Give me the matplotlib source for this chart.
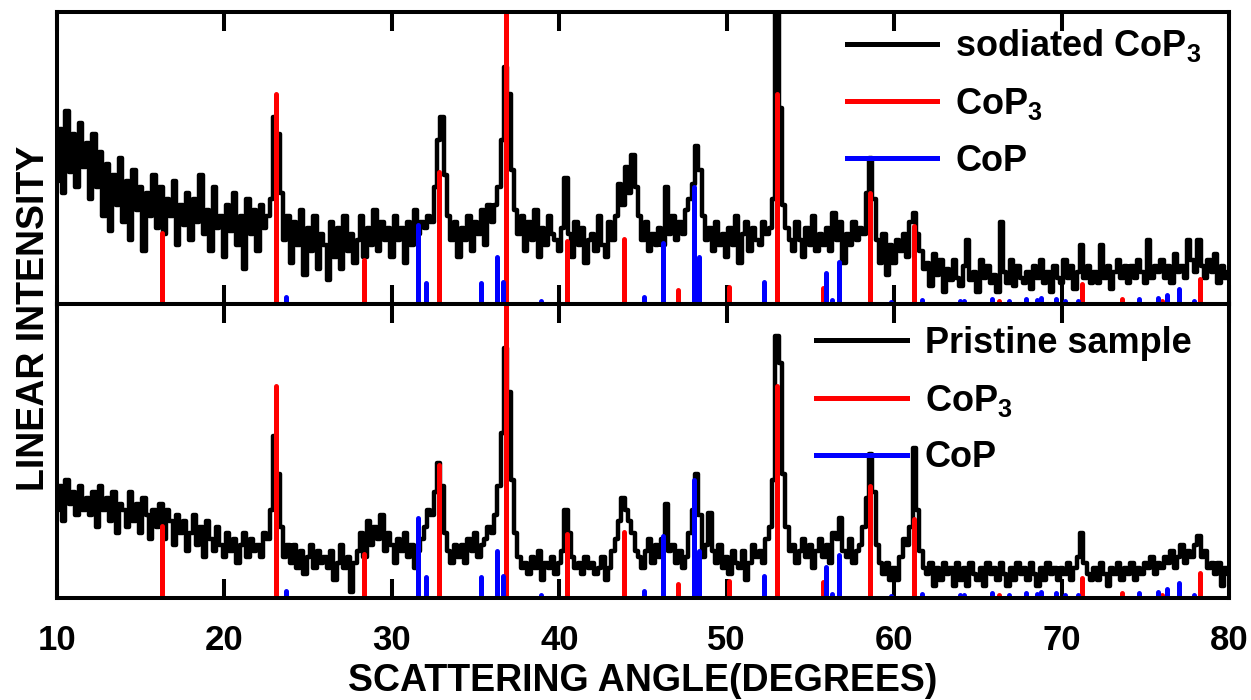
import numpy as np
import matplotlib.pyplot as plt
from matplotlib.lines import Line2D

plt.rcParams['font.family'] = ['Liberation Sans', 'DejaVu Sans']
plt.rcParams['font.weight'] = 'bold'
plt.rcParams['mathtext.fontset'] = 'custom'
plt.rcParams['mathtext.rm'] = 'Liberation Sans:bold'
plt.rcParams['mathtext.default'] = 'rm'

# ============================= Data ===============================
# scattering angle grid (degrees), one point every 0.2 deg
angle = np.round(np.arange(10, 80.001, 0.2), 1)

# intensities, % of panel height
sodiated = [
    42, 60, 38, 66, 45, 58, 40, 62, 47, 55,
    36, 58, 40, 52, 30, 48, 25, 44, 34, 50,
    28, 42, 22, 46, 32, 40, 18, 38, 30, 44,
    26, 40, 24, 36, 30, 42, 20, 34, 27, 38,
    22, 36, 28, 44, 24, 32, 18, 40, 26, 30,
    16, 34, 25, 38, 20, 30, 12, 36, 24, 32,
    18, 34, 26, 30, 36, 64, 58, 38, 22, 30,
    14, 28, 20, 32, 10, 26, 18, 30, 12, 24,
    20, 8, 28, 16, 26, 12, 30, 18, 24, 14,
    22, 30, 16, 26, 20, 32, 18, 28, 22, 26,
    16, 30, 22, 26, 14, 28, 20, 32, 24, 28,
    26, 30, 28, 40, 56, 64, 44, 30, 22, 28,
    16, 26, 22, 30, 18, 28, 24, 32, 20, 34,
    28, 34, 40, 56, 81, 72, 46, 32, 24, 30,
    18, 28, 22, 32, 16, 26, 20, 30, 24, 22,
    18, 26, 43, 24, 16, 28, 20, 26, 14, 22,
    24, 18, 30, 20, 16, 28, 22, 30, 41, 34,
    47, 38, 51, 40, 30, 22, 28, 18, 24, 20,
    26, 20, 40, 24, 30, 22, 28, 24, 32, 36,
    41, 54, 46, 30, 22, 26, 18, 28, 20, 24,
    16, 26, 20, 30, 14, 24, 28, 18, 26, 22,
    20, 28, 24, 26, 36, 105, 67, 34, 26, 22,
    18, 28, 22, 16, 26, 20, 30, 18, 24, 20,
    26, 18, 31, 22, 28, 14, 24, 20, 28, 22,
    26, 24, 38, 50, 36, 22, 14, 24, 10, 20,
    14, 22, 18, 24, 16, 28, 31, 24, 18, 12,
    14, 6, 17, 10, 15, 4, 12, 8, 15, 9,
    6, 13, 22, 8, 11, 4, 15, 9, 13, 7,
    10, 4, 28, 11, 7, 15, 6, 13, 9, 7,
    11, 5, 13, 9, 15, 7, 11, 4, 13, 9,
    7, 15, 9, 13, 5, 11, 20, 9, 13, 7,
    11, 7, 20, 9, 13, 5, 11, 15, 9, 13,
    7, 13, 9, 15, 11, 7, 22, 9, 13, 11,
    15, 9, 13, 7, 17, 11, 13, 9, 22, 15,
    11, 22, 13, 9, 15, 11, 17, 7, 13, 9,
    11,
]

pristine = [
    30, 38, 26, 40, 32, 36, 28, 38, 30, 34,
    28, 36, 24, 38, 30, 34, 26, 36, 22, 32,
    30, 24, 36, 26, 32, 22, 34, 28, 20, 30,
    24, 32, 20, 30, 26, 18, 28, 22, 26, 16,
    22, 28, 18, 24, 14, 26, 20, 16, 24, 18,
    14, 22, 16, 20, 12, 18, 22, 14, 20, 16,
    18, 14, 22, 20, 30, 55, 42, 24, 14, 18,
    12, 18, 10, 16, 8, 14, 18, 10, 16, 12,
    14, 10, 16, 6, 12, 18, 10, 14, 2, 12,
    16, 22, 14, 26, 18, 24, 20, 28, 16, 22,
    18, 12, 20, 16, 22, 14, 18, 10, 16, 20,
    24, 30, 28, 36, 46, 38, 22, 16, 12, 18,
    14, 18, 12, 20, 16, 22, 14, 18, 20, 24,
    22, 28, 38, 56, 85, 70, 40, 22, 14, 10,
    12, 8, 14, 10, 16, 6, 12, 10, 14, 8,
    12, 16, 30, 22, 14, 10, 12, 8, 14, 10,
    12, 8, 10, 14, 6, 10, 16, 20, 26, 34,
    30, 26, 22, 16, 14, 10, 16, 20, 12, 18,
    14, 20, 32, 16, 18, 12, 16, 10, 14, 22,
    30, 42, 28, 14, 18, 29, 16, 12, 18, 10,
    14, 8, 16, 12, 10, 16, 6, 12, 18, 14,
    16, 12, 20, 24, 40, 89, 80, 42, 24, 16,
    18, 12, 16, 20, 14, 18, 10, 16, 20, 14,
    18, 12, 22, 20, 27, 16, 14, 20, 12, 16,
    18, 24, 34, 49, 36, 18, 12, 8, 12, 6,
    10, 6, 14, 20, 18, 24, 51, 30, 16, 10,
    8, 12, 4, 10, 6, 12, 8, 10, 4, 12,
    6, 10, 4, 12, 8, 6, 10, 4, 12, 8,
    10, 6, 12, 8, 4, 10, 6, 12, 8, 10,
    6, 12, 8, 4, 10, 6, 12, 8, 10, 6,
    10, 8, 12, 6, 10, 14, 22, 12, 8, 6,
    10, 6, 12, 8, 4, 10, 8, 12, 6, 10,
    8, 12, 6, 10, 8, 12, 10, 14, 8, 12,
    10, 14, 12, 16, 10, 14, 18, 12, 16, 14,
    18, 21, 14, 16, 10, 12, 8, 12, 4, 10,
    8,
]

# reference sticks
cop3_pos = [16.27, 23.08, 28.34, 32.82, 36.82, 40.46, 43.87, 47.1, 50.13,
            53.0, 55.75, 58.56, 61.19, 66.26, 71.22, 73.6, 76.0, 78.27]
cop3_int = [24.3, 72, 15, 45, 100, 21.6, 22.3, 4.8, 5.8,
            72, 5.5, 38, 26.7, 1, 6.8, 1.7, 1, 8.6]

cop_pos = [23.68, 31.56, 32.04, 35.32, 36.28, 36.64, 38.9, 45.06, 46.2,
           48.05, 48.34, 52.23, 55.93, 56.29, 56.71, 59.81, 61.66, 63.93,
           64.17, 65.84, 66.86, 67.88, 68.53, 68.77, 69.67, 70.2, 70.98,
           74.6, 75.76, 76.3, 77.0, 77.9]
cop_int = [2.4, 27, 7.2, 7.2, 16, 7.5, 1, 2.4, 21,
           40, 16, 7.5, 10.6, 1.4, 14.4, 0.7, 1.4, 1,
           1, 1.7, 1, 1.7, 1.4, 2, 1.7, 1, 1,
           1.7, 2, 3, 5, 1]

xticks = [10, 20, 30, 40, 50, 60, 70, 80]

# ============================= Plot ===============================
fig = plt.figure(figsize=(12.51, 7), dpi=100)
ax_top = fig.add_axes([0.0456, 0.566, 0.9368, 0.417])
ax_bot = fig.add_axes([0.0456, 0.146, 0.9368, 0.42])

panels = [
    (ax_top, sodiated, 'sodiated CoP$_3$', (0.674, 0.947)),
    (ax_bot, pristine, 'Pristine sample', (0.648, 0.925)),
]

for ax, curve, name, anchor in panels:
    ax.plot(angle, curve, color='black', lw=3.2, drawstyle='steps-mid')
    for x, h in zip(cop3_pos, cop3_int):
        ax.plot([x, x], [0, h], color='red', lw=3.6, solid_capstyle='round')
    for x, h in zip(cop_pos, cop_int):
        ax.plot([x, x], [0, h], color='blue', lw=3.6, solid_capstyle='round')

    ax.set_xlim(10, 80)
    ax.set_ylim(0, 100)
    ax.set_yticks([])
    ax.set_xticks(xticks)
    ax.tick_params(axis='x', direction='in', top=True, bottom=True,
                   length=14, width=2.9, labelbottom=False)
    for sp in ax.spines.values():
        sp.set_linewidth(2.9)

    handles = [Line2D([], [], color='black', lw=3.6),
               Line2D([], [], color='red', lw=3.6),
               Line2D([], [], color='blue', lw=3.6)]
    ax.legend(handles, [name, 'CoP$_3$', 'CoP'], loc='upper left',
              bbox_to_anchor=anchor, frameon=False, borderpad=0,
              borderaxespad=0, handlelength=2.5, handletextpad=0.5,
              labelspacing=0.6, prop={'weight': 'bold', 'size': 26})

ax_bot.tick_params(axis='x', labelbottom=True, labelsize=25, pad=19)
ax_bot.set_xlabel('SCATTERING ANGLE(DEGREES)', fontsize=27, fontweight='bold',
                  labelpad=4)

fig.text(0.027, 0.545, 'LINEAR INTENSITY', rotation=90, ha='center',
         va='center', fontsize=27, fontweight='bold')

fig.savefig('out.png', dpi=100)
